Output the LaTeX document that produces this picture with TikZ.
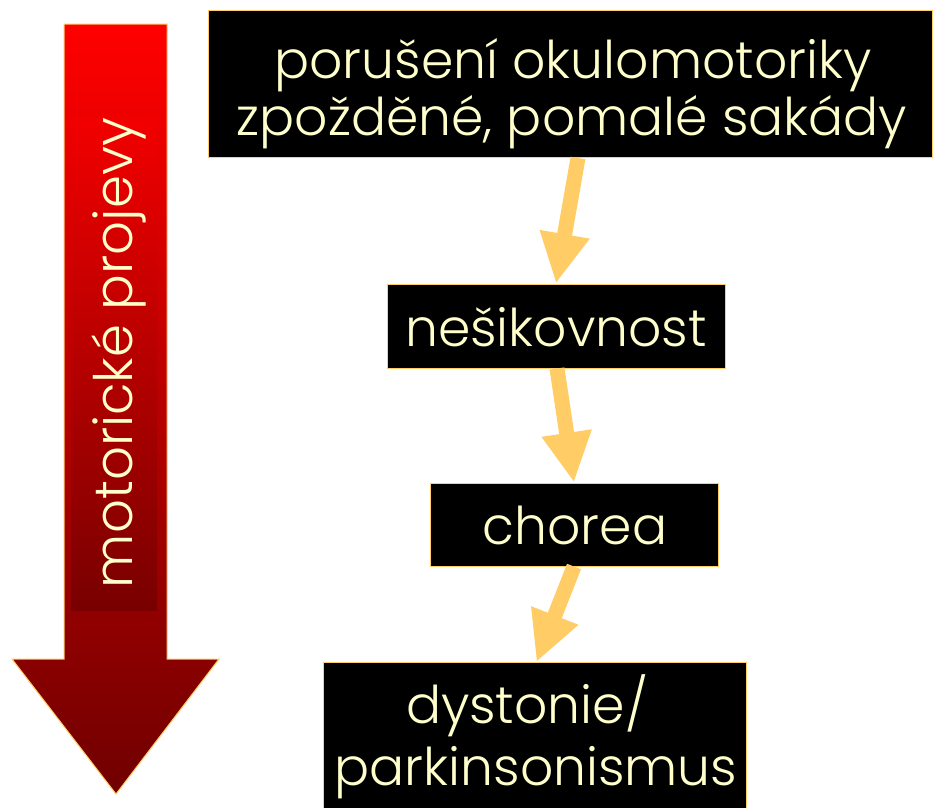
\documentclass[tikz,border=0pt]{standalone}
\usepackage{fontspec}
\IfFontExistsTF{Poppins Light}{\setmainfont{Poppins Light}}{\setmainfont{Poppins}}
\usetikzlibrary{arrows.meta}
\definecolor{gold}{HTML}{FFCC66}
\definecolor{cream}{HTML}{FFFFCC}
\definecolor{dred}{HTML}{700000}
\definecolor{tred}{HTML}{780000}
\tikzset{
  box/.style={draw=gold, line width=1pt, fill=black},
  lbl/.style={text=cream, font=\fontsize{52}{57}\selectfont, inner sep=0pt, anchor=base},
  flow/.style={draw=gold, line width=15pt, -{Triangle[length=50pt,width=47pt]}},
}
\begin{document}
\begin{tikzpicture}[x=1pt,y=-1pt]
\useasboundingbox (0,0) rectangle (934,807);
\clip (0,0) rectangle (934,807);
% big arrow
\shade[top color=red, bottom color=dred, draw=gold, line width=1pt]
  (64,24) -- (167,24) -- (167,659) -- (219,659) -- (116,794) -- (12,659) -- (64,659) -- cycle;
\shade[top color=red!95!black, bottom color=tred] (71,117) rectangle (157,610);
\node[text=cream, font=\fontsize{53}{57}\selectfont, rotate=90, inner sep=0pt] (side) at (119,353) {motorické projevy};
% boxes
\node[box, minimum width=338pt, minimum height=84pt] (b2) at (556,326) {};
\node[box, minimum width=288pt, minimum height=83pt] (b3) at (574,524.5) {};
\node[box, minimum width=423pt, minimum height=160pt, anchor=north] (b4) at (534.5,662) {};
\node[box, minimum width=724pt, minimum height=147pt, anchor=north] (b1) at (570,10) {};
% texts
\node[lbl] (t1a) at (573,78) {porušení okulomotoriky};
\node[lbl] (t1b) at (572,135) {zpožděné, pomalé sakády};
\node[lbl] (t2) at (556,346) {nešikovnost};
\node[lbl] (t3) at (575,544) {chorea};
\node[lbl] (t4a) at (527,723) {dystonie/};
\node[lbl] (t4b) at (536,785) {parkinsonismus};
% connectors
\draw[flow] ([xshift=8pt]b1.south) -- (b2.north);
\draw[flow] ([xshift=1pt]b2.south) -- (b3.north);
\draw[flow] (b3.south) -- ([xshift=2pt]b4.north);
\end{tikzpicture}
\end{document}
